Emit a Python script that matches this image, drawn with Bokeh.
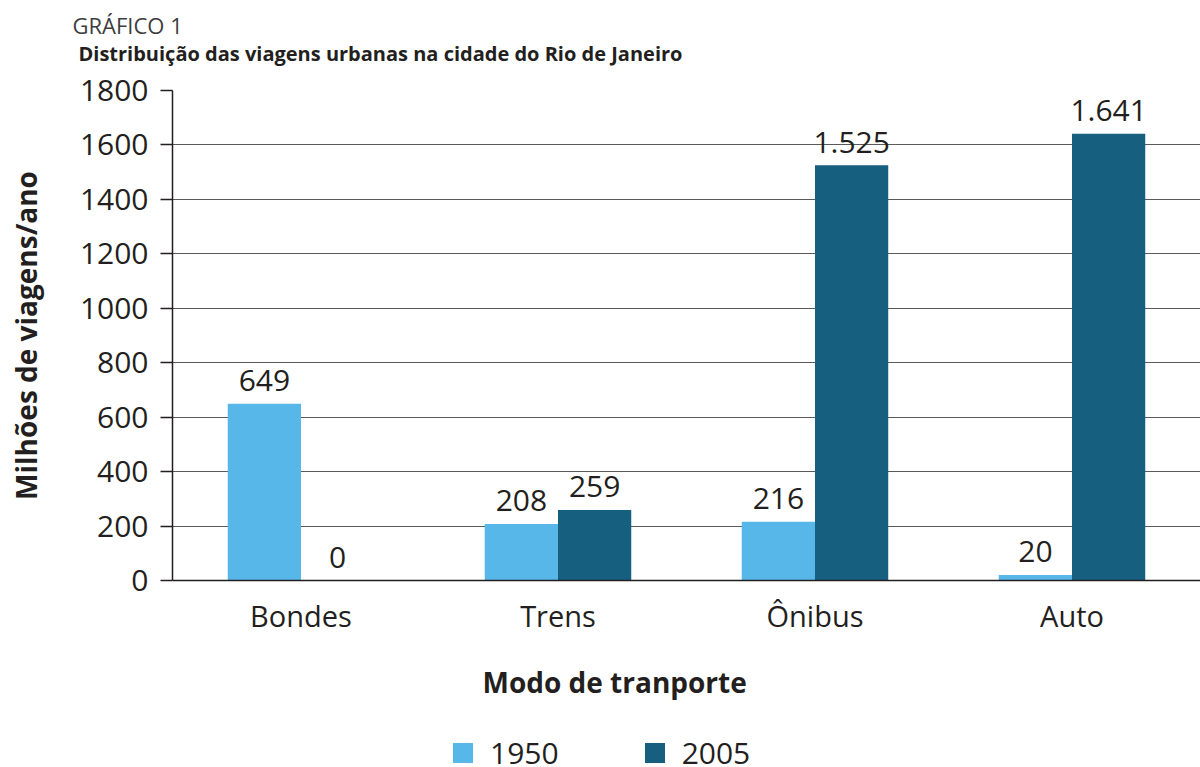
from bokeh.plotting import figure
from bokeh.layouts import column
from bokeh.models import (FactorRange, Range1d, FixedTicker, Legend,
                          LegendItem, ColumnDataSource, Title, Label)
from bokeh.transform import dodge
from bokeh.core.properties import value
from bokeh.embed import file_html
from bokeh.resources import INLINE

# ---- data ----
categories = ["Bondes", "Trens", "Ônibus", "Auto"]
years = ["1950", "2005"]
values_1950 = [649, 208, 216, 20]
values_2005 = [0, 259, 1525, 1641]
y_ticks = [0, 200, 400, 600, 800, 1000, 1200, 1400, 1600, 1800]

chart_kicker = "GRÁFICO 1"
chart_title = "Distribuição das viagens urbanas na cidade do Rio de Janeiro"
x_title = "Modo de tranporte"
y_title = "Milhões de viagens/ano"

# ---- style / layout ----
C1950 = "#56B7E8"
C2005 = "#175F7E"
TXT = "#231F20"
FONT = "Open Sans"
BAR_W = 0.285
OFF = BAR_W / 2
Y_MAX = 1800
W = 1200
TOP_H = 70            # title strip
MAIN_H = 660          # chart
LEG_H = 767 - TOP_H - MAIN_H
FRAME_TOP = 20
FRAME_H = 490
LABEL_GAP = 23.3 * Y_MAX / FRAME_H   # px (gap + half text) in y units


def fmt(v):
    return f"{v:,}".replace(",", ".")


src = ColumnDataSource(dict(
    cat=categories,
    v1950=values_1950,
    v2005=values_2005,
    l1950=[fmt(v) for v in values_1950],
    l2005=[fmt(v) for v in values_2005],
))


def strip(height):
    f = figure(width=W, height=height, x_range=Range1d(0, W),
               y_range=Range1d(0, height), output_backend="svg",
               toolbar_location=None, min_border=0,
               x_axis_location=None, y_axis_location=None)
    f.frame_align = False
    f.grid.visible = False
    f.outline_line_color = None
    f.background_fill_color = "white"
    f.border_fill_color = "white"
    return f


# ---- title strip ----
t = strip(TOP_H)
t.add_layout(Label(x=72, y=TOP_H - 24.5, text=chart_kicker, text_font=FONT,
                   text_font_size="22px", text_color="#3d3d3d",
                   text_baseline="middle"))
t.add_layout(Label(x=78, y=TOP_H - 52.5, text=chart_title, text_font=FONT,
                   text_font_size="20px", text_font_style="bold",
                   text_color=TXT, text_baseline="middle"))

# ---- main chart ----
p = figure(width=W, height=MAIN_H,
           x_range=FactorRange(*categories, range_padding=0),
           y_range=Range1d(0, Y_MAX),
           output_backend="svg", toolbar_location=None,
           min_border_left=172, min_border_right=0,
           min_border_top=FRAME_TOP,
           min_border_bottom=MAIN_H - FRAME_TOP - FRAME_H)
p.outline_line_color = None
p.background_fill_color = "white"
p.border_fill_color = "white"

p.vbar(x=dodge("cat", -OFF, range=p.x_range), top="v1950", width=BAR_W,
       source=src, fill_color=C1950, line_color=None)
p.vbar(x=dodge("cat", OFF, range=p.x_range), top="v2005", width=BAR_W,
       source=src, fill_color=C2005, line_color=None)

lbl_kw = dict(source=src, text_align="center", text_baseline="middle",
              text_font=value(FONT), text_font_size="30px", text_color=TXT)
p.text(x=dodge("cat", -OFF, range=p.x_range),
       y=dodge("v1950", LABEL_GAP, range=p.y_range), text="l1950", **lbl_kw)
p.text(x=dodge("cat", OFF, range=p.x_range),
       y=dodge("v2005", LABEL_GAP, range=p.y_range), text="l2005", **lbl_kw)

p.xgrid.grid_line_color = None
p.ygrid.grid_line_color = "#5a5a5a"
p.ygrid.grid_line_width = 1
p.ygrid.ticker = FixedTicker(ticks=y_ticks)

p.yaxis.ticker = FixedTicker(ticks=y_ticks)
p.yaxis.major_tick_out = 12
p.yaxis.major_tick_in = 0
p.yaxis.minor_tick_line_color = None
p.yaxis.major_tick_line_color = TXT
p.yaxis.major_tick_line_width = 1.5
p.yaxis.axis_line_color = TXT
p.yaxis.axis_line_width = 1.5
p.yaxis.major_label_standoff = 12
p.yaxis.major_label_text_font = FONT
p.yaxis.major_label_text_font_size = "30px"
p.yaxis.major_label_text_color = TXT
p.yaxis.axis_label = y_title
p.yaxis.axis_label_text_font = FONT
p.yaxis.axis_label_text_font_style = "bold"
p.yaxis.axis_label_text_font_size = "28px"
p.yaxis.axis_label_text_color = TXT
p.yaxis.axis_label_standoff = 32

p.xaxis.major_tick_line_color = None
p.xaxis.minor_tick_line_color = None
p.xaxis.axis_line_color = TXT
p.xaxis.axis_line_width = 1.5
p.xaxis.major_label_standoff = 9
p.xaxis.major_label_text_font = FONT
p.xaxis.major_label_text_font_size = "29px"
p.xaxis.major_label_text_color = TXT

p.add_layout(Title(text=x_title, text_font=FONT, text_font_size="28px",
                   text_font_style="bold", text_color=TXT, align="left",
                   offset=310, standoff=47), "below")

# ---- legend strip ----
q = strip(LEG_H)
k1 = q.vbar(x="v1950", top="v1950", width=1, source=src,
            fill_color=C1950, line_color=None, visible=False)
k2 = q.vbar(x="v2005", top="v2005", width=1, source=src,
            fill_color=C2005, line_color=None, visible=False)
legend = Legend(items=[LegendItem(label=years[0], renderers=[k1]),
                       LegendItem(label=years[1], renderers=[k2])],
                orientation="horizontal", location=(450, -6),
                glyph_width=25, glyph_height=25, label_standoff=15,
                spacing=83, padding=0, margin=0,
                label_text_font=FONT, label_text_font_size="30px",
                label_text_color=TXT, inactive_fill_alpha=0,
                border_line_color=None, background_fill_alpha=0)
q.add_layout(legend, "center")

open("out.html", "w").write(file_html(column(t, p, q), INLINE))
